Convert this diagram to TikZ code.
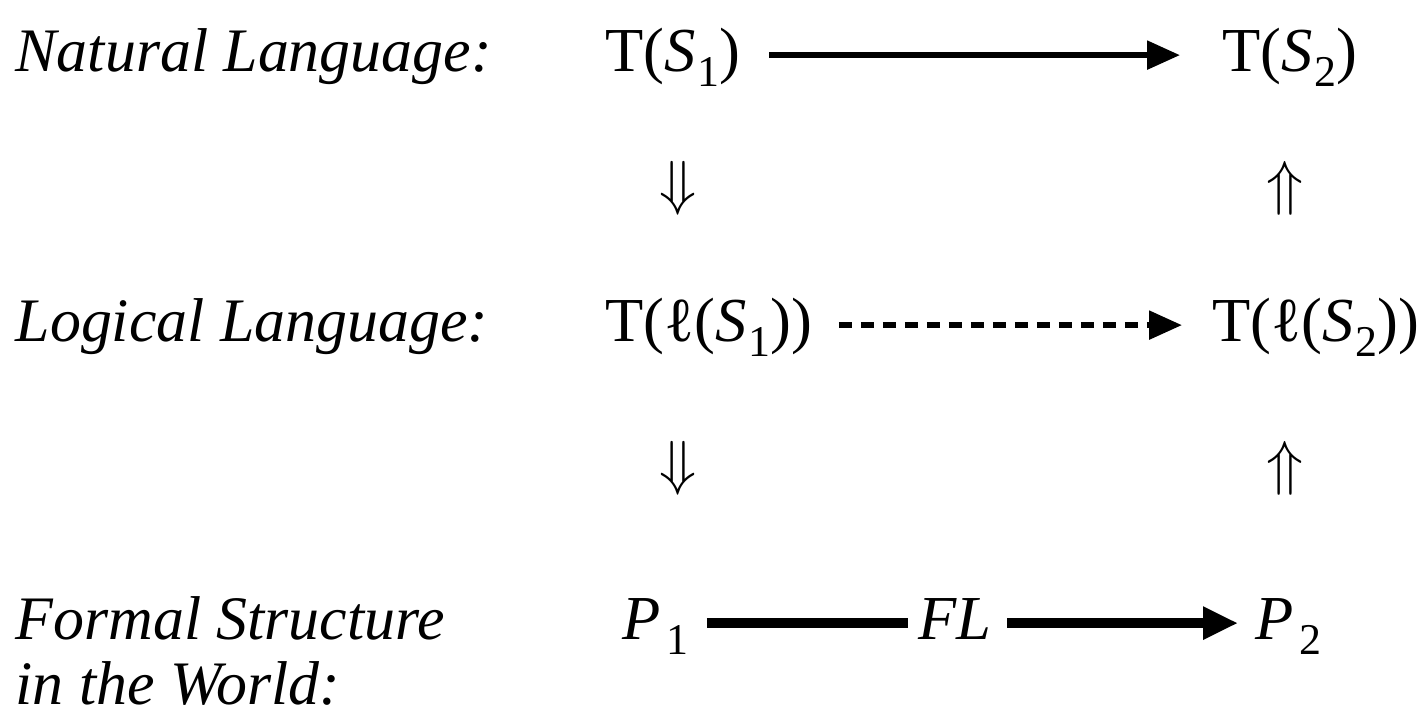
\documentclass[tikz,border=0pt]{standalone}
\usepackage{fontspec}
\setmainfont{Liberation Serif}
\usepackage{tikz}
\usetikzlibrary{arrows.meta}
\newcommand{\low}[1]{\kern0.5pt\raisebox{-0.5ex}{\fontsize{12.5}{12.5}\selectfont #1}}

\begin{document}
\begin{tikzpicture}[
    font=\fontsize{17.8}{18.5}\selectfont,
    lvl/.style={anchor=base west,inner sep=0pt,font=\fontsize{17.6}{18.6}\selectfont\itshape,align=left},
    term/.style={anchor=base west,inner sep=0pt,text height=13pt,text depth=3.4pt},
    dbl/.style={inner sep=0pt,font=\fontsize{17}{17}\selectfont},
    arrow/.style={-{Triangle[length=3.3mm,width=2.8mm]},line width=1.6pt},
    dasharrow/.style={arrow,dash pattern=on 1.3mm off 0.9mm},
    fat/.style={line width=2.9pt},
    fatarrow/.style={fat,-{Triangle[length=3.5mm,width=3.1mm]}}
  ]
    \useasboundingbox (0,0) rectangle (14.28,7.13);

    % level names
    \node[lvl] (nat) at (0.15,6.41) {Natural Language:};
    \node[lvl] (log) at (0.15,3.71) {Logical Language:};
    \node[lvl] (frm) at (0.15,0.08) {Formal Structure\\in the World:};

    % terms
    \node[term] (ts1) at (6.05,6.41) {T(\textit{S}\low{1})};
    \node[term] (ts2) at (12.22,6.41) {T(\textit{S}\low{2})};
    \node[term] (tl1) at (6.05,3.71) {T(ℓ(\textit{S}\low{1}))};
    \node[term] (tl2) at (12.12,3.71) {T(ℓ(\textit{S}\low{2}))};
    \node[term] (p1) at (6.22,0.73) {\textit{P}\kern1pt\low{1}};
    \node[term] (fl) at (9.18,0.73) {\textit{FL}};
    \node[term] (p2) at (12.55,0.73) {\textit{P}\kern1pt\low{2}};

    % translation steps
    \node[dbl] (dn1) at (6.78,5.25) {$\Downarrow$};
    \node[dbl] (up1) at (12.85,5.25) {$\Uparrow$};
    \node[dbl] (dn2) at (6.78,2.45) {$\Downarrow$};
    \node[dbl] (up2) at (12.85,2.45) {$\Uparrow$};

    \draw[arrow,shorten <=2.8mm,shorten >=4.2mm] (ts1.east) -- (ts2.west);
    \draw[dasharrow,shorten <=2.6mm,shorten >=3mm] (tl1.east) -- (tl2.west);
    \draw[fat,shorten <=1.8mm,shorten >=1mm] (p1.east) -- (fl.west);
    \draw[fatarrow,shorten <=1.5mm,shorten >=1.7mm] (fl.east) -- (p2.west);
  \end{tikzpicture}
\end{document}
